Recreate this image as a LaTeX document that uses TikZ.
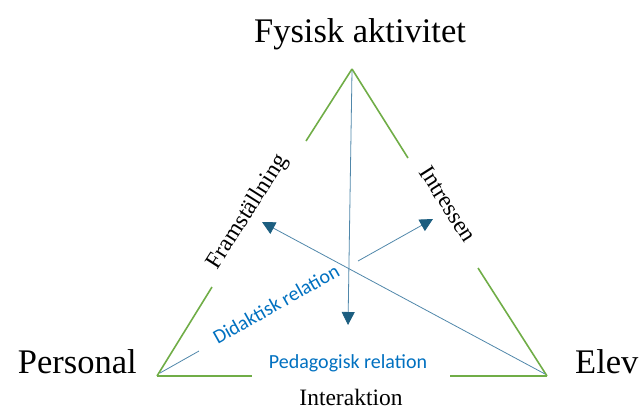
\documentclass[tikz,border=0pt]{standalone}
\usepackage{fontspec}
\setmainfont{Liberation Serif}
\newfontfamily\calfont{Carlito}
\usetikzlibrary{arrows.meta}
\definecolor{trigreen}{RGB}{112,173,71}
\definecolor{relline}{RGB}{80,135,170}
\definecolor{reldark}{RGB}{28,94,128}
\definecolor{relblue}{RGB}{0,112,192}
\tikzset{
  side/.style={draw=trigreen, line width=1.6pt},
  rel/.style={draw=relline, line width=0.8pt},
  relarrow/.style={rel, -{Triangle[length=13pt,width=13pt,color=reldark]}},
  bigtxt/.style={font=\fontsize{34.5}{40}\selectfont, inner sep=0pt},
  midtxt/.style={font=\fontsize{23.5}{28}\selectfont, inner sep=0pt},
  bluetxt/.style={font=\calfont\fontsize{20}{23}\selectfont, text=relblue, inner sep=0pt}
}
\begin{document}
\begin{tikzpicture}[x=1pt,y=-1pt]
\useasboundingbox (0,0) rectangle (642,410);
% vertices
\coordinate (T) at (352,69);
\coordinate (L) at (157,376);
\coordinate (R) at (547,376);
% green side ends
\coordinate (tl) at (306,141);
\coordinate (tr) at (408,158);
\coordinate (lt) at (212,287);
\coordinate (rt) at (478,268);
\coordinate (lb) at (252,376);
\coordinate (rb) at (450,376);
\draw[side] (T) -- (tl);
\draw[side] (T) -- (tr);
\draw[side] (L) -- (lt);
\draw[side] (R) -- (rt);
\draw[side] (L) -- (lb);
\draw[side] (R) -- (rb);
% labels
\node[bigtxt, anchor=base] (fa) at (360,42) {Fysisk aktivitet};
\node[bigtxt, anchor=base east] (pe) at (137,373) {Personal};
\node[bigtxt, anchor=base west] (el) at (575,373) {Elev};
\node[midtxt, anchor=base] (in) at (351,405) {Interaktion};
\node[midtxt, rotate=57.6] (fr) at (248,212) {Framställning};
\node[midtxt, rotate=-57.6] (is) at (448,204) {Intressen};
\node[bluetxt, anchor=base] (pr) at (348,368) {Pedagogisk relation};
\node[bluetxt, rotate=29.4] (dr) at (276,304) {Didaktisk relation};
% relation connectors
\coordinate (vtop) at (352,71);
\coordinate (vtip) at (348,325);
\coordinate (ftip) at (262,222);
\coordinate (Rs) at (545,374);
\coordinate (Ls) at (160,373);
\coordinate (d1) at (199,351);
\coordinate (d2) at (358,261);
\coordinate (itip) at (433,219);
\draw[relarrow] (vtop) -- (vtip);
\draw[relarrow] (Rs) -- (ftip);
\draw[rel] (Ls) -- (d1);
\draw[relarrow] (d2) -- (itip);
\end{tikzpicture}
\end{document}
